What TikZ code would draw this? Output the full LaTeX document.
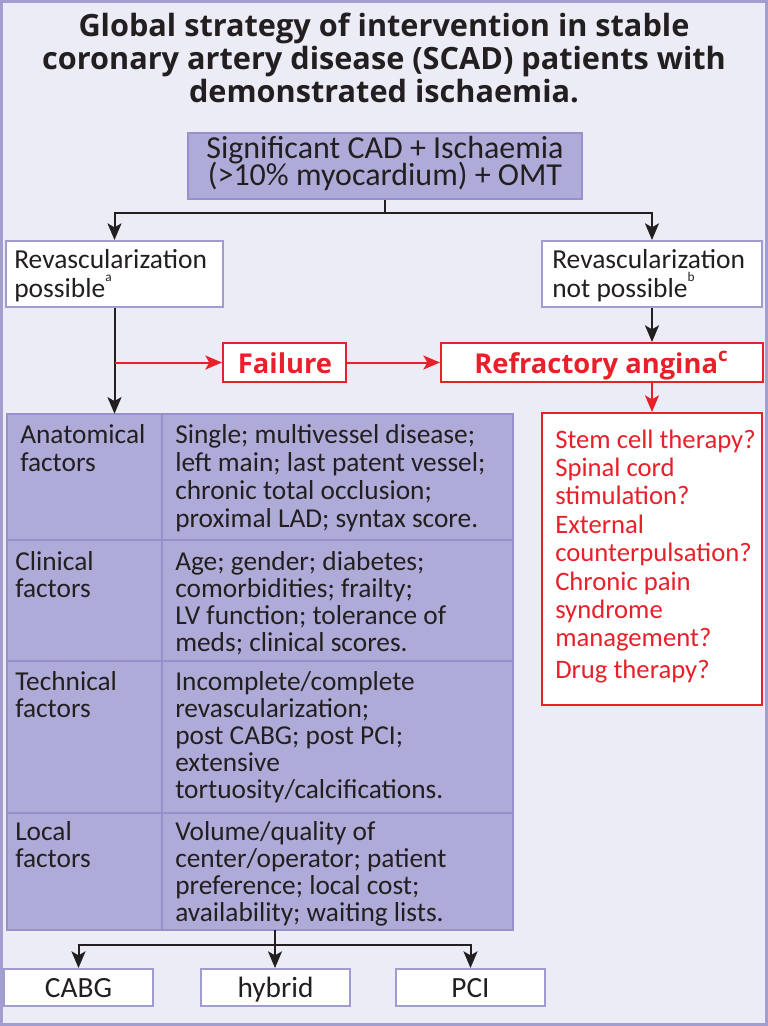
\documentclass[tikz,border=0pt]{standalone}
\usepackage{fontspec}
\setmainfont{Carlito}
\newfontfamily\headfont{Open Sans}
\usetikzlibrary{arrows.meta,fit}
\definecolor{bg}{RGB}{236,236,247}
\definecolor{frame}{RGB}{162,158,208}
\definecolor{boxfill}{RGB}{175,171,216}
\definecolor{boxline}{RGB}{150,145,203}
\definecolor{wline}{RGB}{160,156,208}
\definecolor{ink}{RGB}{35,31,32}
\definecolor{alert}{RGB}{232,32,42}
\newcommand{\tl}[1]{\begin{minipage}[t]{300pt}\raggedright\lineskiplimit=-100pt\relax #1\end{minipage}}
\newcommand{\tc}[1]{\begin{minipage}[t]{560pt}\centering\lineskiplimit=-100pt\relax #1\end{minipage}}
\newcommand{\supsmall}[1]{\raisebox{0.55em}{\fontsize{10}{10}\selectfont #1}}
\newcommand{\supbold}[1]{\raisebox{0.42em}{\fontsize{14}{14}\selectfont #1}}
\tikzset{
  purplebox/.style={draw=boxline, fill=boxfill, line width=1.5pt, inner sep=0pt},
  whitebox/.style={draw=wline, fill=white, line width=1.5pt, inner sep=0pt},
  redbox/.style={draw=alert, fill=white, line width=1.5pt, inner sep=0pt},
  cell/.style={draw=boxline, fill=boxfill, line width=1.5pt, inner sep=0pt},
  txt/.style={inner sep=0pt, text=ink},
  bodyfont/.style={font=\fontsize{20.5}{20.4}\selectfont},
  redfont/.style={font=\headfont\bfseries\fontsize{20.5}{20}\selectfont},
  conn/.style={draw=ink, line width=1.5pt},
  arr/.style={conn, -{Stealth[length=12.5pt,width=10.5pt,inset=3pt]}},
  redarr/.style={draw=alert, line width=1.5pt, -{Stealth[length=12.5pt,width=10.5pt,inset=3pt]}},
}
\begin{document}
\begin{tikzpicture}[x=0.75pt,y=-0.75pt]
\useasboundingbox (0,0) rectangle (768,1026);
\draw[fill=bg, draw=frame, line width=2.2pt] (1.5,1.5) rectangle (766.5,1024.5);

% title
\node[txt, anchor=base, font=\headfont\bfseries\fontsize{23}{25.1}\selectfont] (title) at (384,36)
  {\tc{Global strategy of intervention in stable\\coronary artery disease (SCAD) patients with\\demonstrated ischaemia.}};

% top box
\node[purplebox, fit={(188,133) (582,199)}] (top) {};
\node[txt, anchor=base, font=\fontsize{24}{20.6}\selectfont] (toptxt) at (385,158)
  {\tc{Significant CAD + Ischaemia\\(>10\% myocardium) + OMT}};

% second level
\node[whitebox, fit={(6,241) (223,307)}] (lbox) {};
\node[txt, anchor=base west, font=\fontsize{20.6}{21.75}\selectfont] (ltxt) at (14,268)
  {\tl{Revascularization\\possible\supsmall{a}}};
\node[whitebox, fit={(542,241) (762,307)}] (rbox) {};
\node[txt, anchor=base west, font=\fontsize{20.6}{21.75}\selectfont] (rtxt) at (552,268)
  {\tl{Revascularization\\not possible\supsmall{b}}};

% failure / refractory
\node[redbox, fit={(223,343) (346,382)}] (fail) {};
\node[inner sep=0pt, text=alert, anchor=base, redfont] (failtxt) at (285,373) {Failure};
\node[redbox, fit={(441,343) (763,382)}] (refr) {};
\node[inner sep=0pt, text=alert, anchor=base, redfont] (refrtxt) at (601,373)
  {Refractory angina\supbold{c}};

% options box
\node[redbox, fit={(542,413) (762,705)}] (opts) {};
\node[inner sep=0pt, text=alert, anchor=base west, font=\fontsize{20}{21.3}\selectfont] (optstxt) at (555,448)
  {\tl{Stem cell therapy?\\Spinal cord\\stimulation?\\External\\counterpulsation?\\Chronic pain\\syndrome\\management?\\[2.3pt]Drug therapy?}};

% table
\node[cell, fit={(7,414) (162,540)}] (a1) {};
\node[cell, fit={(162,414) (513,540)}] (a2) {};
\node[cell, fit={(7,540) (162,661)}] (b1) {};
\node[cell, fit={(162,540) (513,661)}] (b2) {};
\node[cell, fit={(7,661) (162,813)}] (c1) {};
\node[cell, fit={(162,661) (513,813)}] (c2) {};
\node[cell, fit={(7,813) (162,930)}] (d1) {};
\node[cell, fit={(162,813) (513,930)}] (d2) {};
\node[inner sep=0pt, fit={(7,414) (513,930)}] (tab) {};

\node[txt, anchor=base west, font=\fontsize{20.5}{21.2}\selectfont] (a1t) at (20,443) {\tl{Anatomical\\factors}};
\node[txt, anchor=base west, font=\fontsize{20.5}{21.2}\selectfont] (a2t) at (175,443)
  {\tl{Single; multivessel disease;\\left main; last patent vessel;\\chronic total occlusion;\\proximal LAD; syntax score.}};
\node[txt, anchor=base west, bodyfont] (b1t) at (15,570) {\tl{Clinical\\factors}};
\node[txt, anchor=base west, bodyfont] (b2t) at (175,570)
  {\tl{Age; gender; diabetes;\\comorbidities; frailty;\\LV function; tolerance of\\meds; clinical scores.}};
\node[txt, anchor=base west, bodyfont] (c1t) at (15,690) {\tl{Technical\\factors}};
\node[txt, anchor=base west, bodyfont] (c2t) at (175,690)
  {\tl{Incomplete/complete\\revascularization;\\post CABG; post PCI;\\extensive\\tortuosity/calcifications.}};
\node[txt, anchor=base west, bodyfont] (d1t) at (15,840) {\tl{Local\\factors}};
\node[txt, anchor=base west, bodyfont] (d2t) at (175,840)
  {\tl{Volume/quality of\\center/operator; patient\\preference; local cost;\\availability; waiting lists.}};

% bottom boxes
\node[whitebox, fit={(4,969) (153,1006)}] (cabg) {};
\node[txt, anchor=base, font=\fontsize{22}{22}\selectfont] (cabgt) at (78.5,997) {CABG};
\node[whitebox, fit={(201,969) (350,1006)}] (hyb) {};
\node[txt, anchor=base, font=\fontsize{22}{22}\selectfont] (hybt) at (275.5,997) {hybrid};
\node[whitebox, fit={(396,969) (545,1006)}] (pci) {};
\node[txt, anchor=base, font=\fontsize{22}{22}\selectfont] (pcit) at (470.5,997) {PCI};

% connectors
\coordinate (j0) at (385,213);
\draw[conn] (top.south) -- (j0);
\draw[arr] (j0) -| (lbox.north);
\draw[arr] (j0) -| (rbox.north);
\draw[arr] (lbox.south) -- (lbox.south |- tab.north);
\coordinate (rj) at (lbox.south |- fail.west);
\draw[redarr] (rj) -- (fail.west);
\draw[redarr] (fail.east) -- (refr.west);
\draw[arr] (rbox.south) -- (rbox.south |- refr.north);
\draw[redarr] (opts.north |- refr.south) -- (opts.north);
\coordinate (bj) at (275,945);
\draw[conn] (bj |- tab.south) -- (bj);
\draw[arr] (bj) -| (cabg.north);
\draw[arr] (bj) -- (bj |- hyb.north);
\draw[arr] (bj) -| (pci.north);
\end{tikzpicture}
\end{document}
